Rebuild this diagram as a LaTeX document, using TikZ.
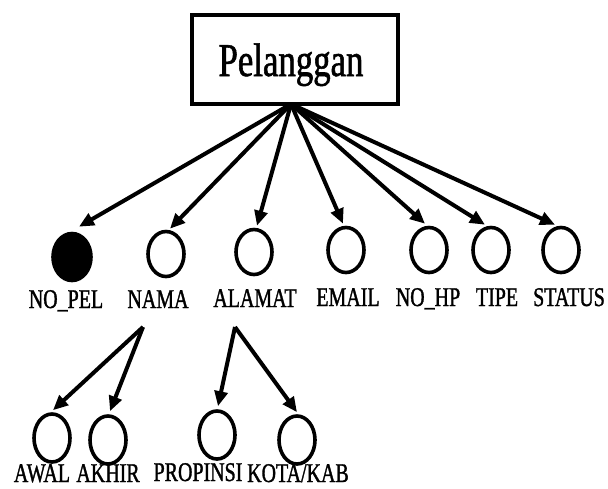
\documentclass[tikz,border=0pt]{standalone}
\usepackage{fontspec}
\setmainfont{Liberation Serif}[FakeStretch=0.74,FakeBold=1.2]
\usetikzlibrary{arrows.meta,shapes.geometric}

\tikzset{
  entity/.style={draw, line width=4pt, rectangle, minimum width=206pt, minimum height=89pt, inner sep=0pt},
  attr/.style={draw, line width=3.6pt, ellipse, minimum width=36pt, minimum height=45pt, inner sep=0pt},
  subattr/.style={attr, minimum height=48pt},
  keyattr/.style={attr, fill=black, minimum width=38pt, minimum height=47pt},
  lbl/.style={anchor=base, inner sep=0pt, font=\fontsize{27}{27}\selectfont},
  link/.style={line width=4pt, -{Triangle[length=15pt,width=13pt]}},
}

\begin{document}
\begin{tikzpicture}[x=1pt, y=-1pt]
\useasboundingbox (0,0) rectangle (608,488);

% entity
\node[entity] (pel) at (295,59) {};
\node[anchor=base, inner sep=0pt, font=\fontsize{47}{47}\selectfont] (peltext) at (291,76) {Pelanggan};
\coordinate (root) at (291,104);

% attributes
\node[keyattr] (nopel) at (72,257) {};
\node[attr] (nama) at (166,254) {};
\node[attr] (alamat) at (254,252) {};
\node[attr] (email) at (346,250) {};
\node[attr] (nohp) at (429,250) {};
\node[attr] (tipe) at (491,250) {};
\node[attr] (status) at (561,250) {};

\node[lbl] (lnopel) at (66,308) {NO\_PEL};
\node[lbl] (lnama) at (158,308) {NAMA};
\node[lbl] (lalamat) at (255,307) {ALAMAT};
\node[lbl] (lemail) at (348,306) {EMAIL};
\node[lbl] (lnohp) at (428,306) {NO\_HP};
\node[lbl] (ltipe) at (497,306) {TIPE};
\node[lbl] (lstatus) at (569,306) {STATUS};

\draw[link] (root) -- ([shift={(7,-5)}]nopel.north);
\draw[link] (root) -- ([shift={(4,-1)}]nama.north);
\draw[link] (root) -- ([shift={(3,-2)}]alamat.north);
\draw[link] (root) -- ([shift={(-3,-2)}]email.north);
\draw[link] (root) -- ([shift={(-4,-2)}]nohp.north);
\draw[link] (root) -- ([shift={(-6,-1)}]tipe.north);
\draw[link] (root) -- ([shift={(-6,-1)}]status.north);

% composite attributes
\coordinate (namaroot) at (143,327);
\coordinate (alamatroot) at (235,327);

\node[subattr] (awal) at (52,438) {};
\node[subattr] (akhir) at (108,440) {};
\node[subattr] (propinsi) at (217,435) {};
\node[subattr] (kota) at (297,440) {};

\node[lbl] (lawal) at (42,482) {AWAL};
\node[lbl] (lakhir) at (108,482) {AKHIR};
\node[lbl] (lpropinsi) at (198,481) {PROPINSI};
\node[lbl] (lkota) at (298,482) {KOTA/KAB};

\draw[link] (namaroot) -- ([shift={(1,-2)}]awal.north);
\draw[link] (namaroot) -- ([shift={(2,-3)}]akhir.north);
\draw[link] (alamatroot) -- ([shift={(1,-3)}]propinsi.north);
\draw[link] (alamatroot) -- ([shift={(0,-2)}]kota.north);
\end{tikzpicture}
\end{document}
